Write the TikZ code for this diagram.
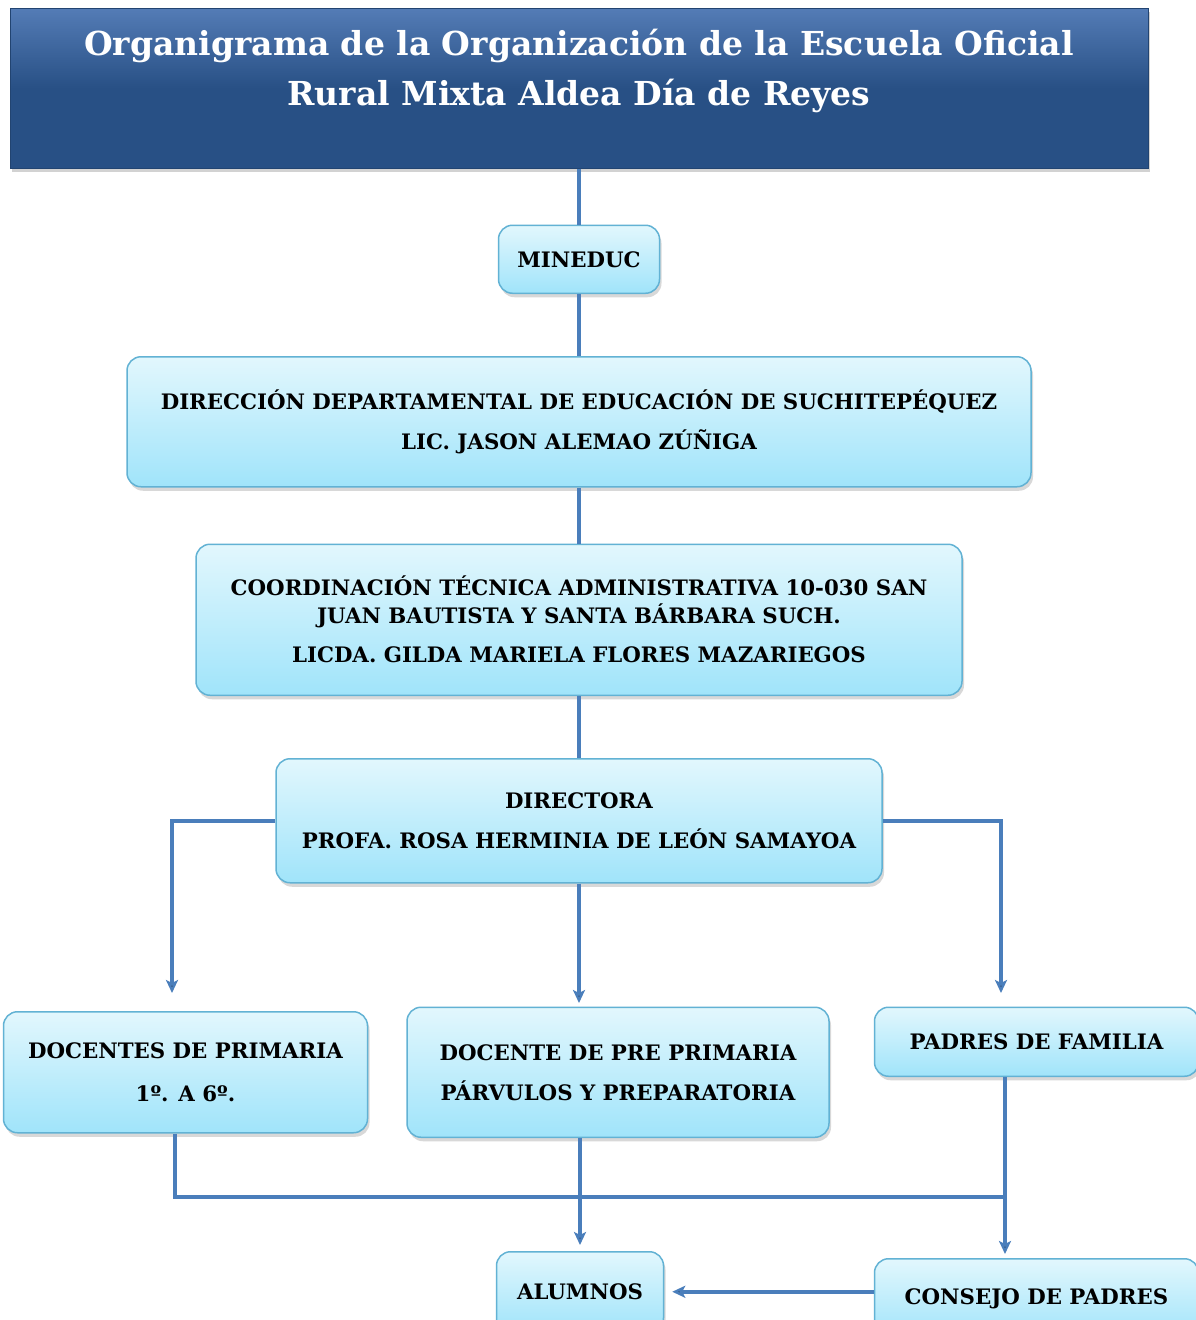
\documentclass[tikz,border=0pt]{standalone}
\usepackage{fontspec}
\setmainfont{DejaVu Serif}
\usetikzlibrary{arrows.meta,positioning,shadows}
\definecolor{linkblue}{RGB}{74,126,187}
\definecolor{titleblue}{RGB}{40,80,133}
\definecolor{titletop}{RGB}{84,124,182}
\definecolor{boxtop}{RGB}{226,247,253}
\definecolor{boxbottom}{RGB}{160,228,250}
\definecolor{boxline}{RGB}{98,178,212}
\tikzset{
    >={Stealth[length=13pt,width=12pt,inset=3pt]},
    font=\fontsize{21.3}{28}\selectfont\bfseries,
    title box/.style={rectangle,draw=titleblue!85!black,line width=1pt,
        top color=titletop,bottom color=titleblue,middle color=titleblue,
        text=white,inner sep=0pt,
        drop shadow={shadow xshift=2pt,shadow yshift=-4pt,opacity=0.35}},
    unit box/.style={rectangle,rounded corners=14pt,draw=boxline,line width=1.5pt,
        top color=boxtop,bottom color=boxbottom,align=center,inner sep=0pt,
        drop shadow={shadow xshift=2pt,shadow yshift=-4pt,opacity=0.3}},
    link/.style={draw=linkblue,line width=3.5pt}
}
\begin{document}
\begin{tikzpicture}[x=1pt,y=-1pt]
    \useasboundingbox (0,0) rectangle (1195,1320);
    \fill[white] (0,0) rectangle (1195,1320);
    % chain
    \node[title box,minimum width=1138pt,minimum height=160pt] (title) at (579,88)
        {\parbox[c][118pt][t]{1100pt}{\centering\fontsize{33}{50}\selectfont
        Organigrama de la Organización de la Escuela Oficial\\
        Rural Mixta Aldea Día de Reyes}};
    \node[unit box,minimum width=161pt,minimum height=68pt] (mineduc) [below = 56pt of title] {MINEDUC};
    \node[unit box,minimum width=904pt,minimum height=130pt] (direccion) [below = 62pt of mineduc]
        {DIRECCIÓN DEPARTAMENTAL DE EDUCACIÓN DE SUCHITEPÉQUEZ\\[12pt] LIC. JASON ALEMAO ZÚÑIGA};
    \node[unit box,minimum width=766pt,minimum height=151pt] (coordinacion) [below = 56pt of direccion]
        {COORDINACIÓN TÉCNICA ADMINISTRATIVA 10-030 SAN\\ JUAN BAUTISTA Y SANTA BÁRBARA SUCH.\\[11pt]
        LICDA. GILDA MARIELA FLORES MAZARIEGOS};
    \node[unit box,minimum width=606pt,minimum height=124pt] (directora) [below = 62pt of coordinacion]
        {DIRECTORA\\[12pt] PROFA. ROSA HERMINIA DE LEÓN SAMAYOA};
    % bottom row
    \node[unit box,minimum width=422pt,minimum height=130pt] (preprimaria) [below = 123pt of directora, xshift=39pt]
        {DOCENTE DE PRE PRIMARIA\\[12pt] PÁRVULOS Y PREPARATORIA};
    \node[unit box,minimum width=364pt,minimum height=121pt] (docentes) [left = 38pt of preprimaria]
        {DOCENTES DE PRIMARIA\\[15pt] 1º. A 6º.};
    \node[unit box,minimum width=324pt,minimum height=69pt] (padres) [right = 44pt of preprimaria.north east, anchor=north west]
        {PADRES DE FAMILIA};
    \node[unit box,minimum width=167pt,minimum height=80pt] (alumnos) [below = 113pt of preprimaria, xshift=-38pt] {ALUMNOS};
    \node[unit box,minimum width=324pt,minimum height=80pt] (consejo) [below = 181pt of padres] {CONSEJO DE PADRES};
    % free ends
    \coordinate (tipL) at (172,993);
    \coordinate (tipR) at (1001,993);
    \coordinate (tipM) at (579,1003);
    \coordinate (busL) at (175,1197);
    \coordinate (busR) at (1005,1197);
    \coordinate (tipA) at (580,1245);
    \coordinate (tipC) at (1005,1254);
    \path[link]
        (title) edge (mineduc)
        (mineduc) edge (direccion)
        (direccion) edge (coordinacion)
        (coordinacion) edge (directora)
        (directora.west) edge [->, to path={-| (\tikztotarget)}] (tipL)
        (directora.east) edge [->, to path={-| (\tikztotarget)}] (tipR)
        (directora.south -| tipM) edge [->] (tipM)
        (docentes.south -| busL) edge [to path={|- (\tikztotarget)}] (busR)
        (preprimaria.south -| tipA) edge [->] (tipA)
        (padres.south -| tipC) edge [->] (tipC)
        (consejo.west |- alumnos.east) edge [->, shorten >=8pt] (alumnos.east)
        ;
\end{tikzpicture}
\end{document}
